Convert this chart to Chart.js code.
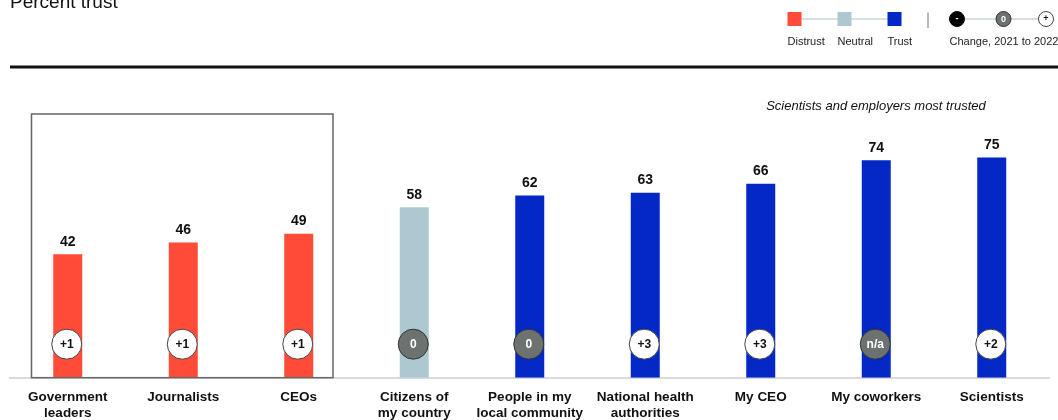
<!DOCTYPE html>
<html>
<head>
<meta charset="utf-8">
<script src="https://cdn.jsdelivr.net/npm/chart.js@4"></script>
<style>
  html, body { margin: 0; padding: 0; background: #fff; }
  #wrap { width: 1058px; height: 420px; }
</style>
</head>
<body>
<div id="wrap"><canvas id="trust-chart" width="1058" height="420"></canvas></div>
<script>
// --- datos ---
const categories = [
    ['Government', 'leaders'], 'Journalists', 'CEOs', ['Citizens of', 'my country'],
    ['People in my', 'local community'], ['National health', 'authorities'],
    'My CEO', 'My coworkers', 'Scientists'
];
const trustValues = [42, 46, 49, 58, 62, 63, 66, 74, 75];
const trustLevels = ['distrust', 'distrust', 'distrust', 'neutral', 'trust', 'trust', 'trust', 'trust', 'trust'];
const changeLabels = ['+1', '+1', '+1', '0', '0', '+3', '+3', 'n/a', '+2'];
const yTicks = [0, 100];

const COLORS = { distrust: '#FF4B37', neutral: '#AEC8D2', trust: '#0328C6' };
const GRAY = '#6C726F';
const FONT = "'Liberation Sans', Arial, sans-serif";

function circle(ctx, x, y, r, fill, stroke) {
    ctx.beginPath();
    ctx.arc(x, y, r, 0, Math.PI * 2);
    ctx.fillStyle = fill;
    ctx.fill();
    ctx.lineWidth = 1;
    ctx.strokeStyle = stroke;
    ctx.stroke();
}

// cabecera, leyenda y anotaciones
const decorPlugin = {
    id: 'decor',
    afterDatasetsDraw(chart) {
        const ctx = chart.ctx;
        const meta = chart.getDatasetMeta(0);
        const yScale = chart.scales.y;
        const base = yScale.getPixelForValue(0);
        ctx.save();

        // titulo cortado arriba
        ctx.fillStyle = '#111';
        ctx.font = `19px ${FONT}`;
        ctx.textAlign = 'left';
        ctx.textBaseline = 'alphabetic';
        ctx.fillText('Percent trust', 10, 8);

        // linea negra
        ctx.fillStyle = '#111';
        ctx.fillRect(10, 65.5, 1048, 3);

        // leyenda de colores
        ctx.strokeStyle = '#C9D3D7';
        ctx.lineWidth = 1.5;
        ctx.beginPath();
        ctx.moveTo(794, 19);
        ctx.lineTo(895, 19);
        ctx.stroke();
        const legendItems = [['distrust', 'Distrust', 787.5], ['neutral', 'Neutral', 837.5], ['trust', 'Trust', 887.5]];
        ctx.font = `11px ${FONT}`;
        ctx.textBaseline = 'middle';
        legendItems.forEach(([key, label, x]) => {
            ctx.fillStyle = COLORS[key];
            ctx.fillRect(x, 12, 14, 14);
            ctx.fillStyle = '#222';
            ctx.fillText(label, x, 41.5);
        });

        // separador
        ctx.strokeStyle = '#777';
        ctx.lineWidth = 1;
        ctx.beginPath();
        ctx.moveTo(928, 12.5);
        ctx.lineTo(928, 28);
        ctx.stroke();

        // leyenda de cambio
        ctx.strokeStyle = '#C9D3D7';
        ctx.lineWidth = 1.5;
        ctx.beginPath();
        ctx.moveTo(957, 19);
        ctx.lineTo(1046, 19);
        ctx.stroke();
        circle(ctx, 957, 19, 7.5, '#000', '#000');
        circle(ctx, 1003.5, 19, 7.5, GRAY, '#333');
        circle(ctx, 1046, 19, 7.5, '#fff', '#444');
        ctx.textAlign = 'center';
        ctx.font = `bold 9px ${FONT}`;
        ctx.fillStyle = '#fff';
        ctx.fillText('-', 957, 19);
        ctx.fillText('0', 1003.5, 19.5);
        ctx.fillStyle = '#111';
        ctx.fillText('+', 1046, 19);
        ctx.font = `11px ${FONT}`;
        ctx.fillStyle = '#222';
        ctx.textAlign = 'left';
        ctx.fillText('Change, 2021 to 2022', 949.5, 41.5);

        // nota en cursiva
        ctx.font = `italic 13px ${FONT}`;
        ctx.textAlign = 'center';
        ctx.fillStyle = '#111';
        ctx.fillText('Scientists and employers most trusted', 876, 106.5);

        // recuadro de los tres primeros
        ctx.strokeStyle = '#666';
        ctx.lineWidth = 1.5;
        ctx.strokeRect(31.5, 114, 301.5, base - 114);

        // valores y circulos de cambio
        meta.data.forEach((bar, i) => {
            ctx.textAlign = 'center';
            ctx.textBaseline = 'middle';
            ctx.font = `bold 14px ${FONT}`;
            ctx.fillStyle = '#111';
            ctx.fillText(String(trustValues[i]), bar.x, bar.y - 12.5);

            const label = changeLabels[i];
            const grayOne = label === '0' || label === 'n/a';
            const cy = base - 33.5;
            circle(ctx, bar.x - 1, cy, 15, grayOne ? GRAY : '#fff', grayOne ? '#333' : '#444');
            ctx.font = `bold 12px ${FONT}`;
            ctx.fillStyle = grayOne ? '#fff' : '#111';
            ctx.fillText(label, bar.x - 1, cy + 0.5);
        });
        ctx.restore();
    }
};

new Chart(document.getElementById('trust-chart'), {
    type: 'bar',
    data: {
        labels: categories,
        datasets: [{
            data: trustValues,
            backgroundColor: trustLevels.map(l => COLORS[l]),
            borderWidth: 0,
            barPercentage: 0.251,
            categoryPercentage: 1
        }]
    },
    options: {
        responsive: false,
        animation: false,
        layout: { padding: { top: 84, left: 10, right: 8.5, bottom: -13 } },
        scales: {
            x: {
                grid: { display: false, drawTicks: false },
                border: { display: true, color: '#DADADA', width: 2 },
                ticks: {
                    color: '#111',
                    padding: 12,
                    maxRotation: 0,
                    autoSkip: false,
                    font: { family: FONT, size: 13.5, weight: 'bold', lineHeight: 1.16 }
                }
            },
            y: {
                display: false,
                min: yTicks[0],
                max: yTicks[1]
            }
        },
        plugins: {
            legend: { display: false },
            tooltip: { enabled: false }
        }
    },
    plugins: [decorPlugin]
});
</script>
</body>
</html>
